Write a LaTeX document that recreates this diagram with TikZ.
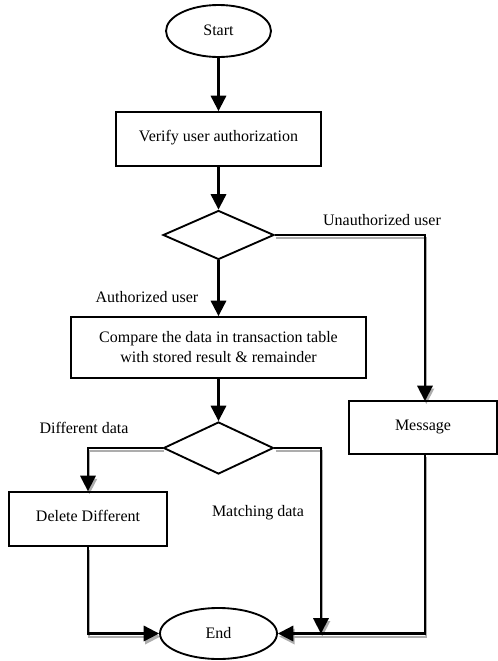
\documentclass[tikz,border=0pt]{standalone}
\usepackage{fontspec}
\setmainfont{Liberation Serif}
\usetikzlibrary{shapes.geometric,arrows.meta}
\pgfdeclarelayer{shade}
\pgfsetlayers{shade,main}
% connector drawn twice: a soft grey copy underneath, then the black line
\newcommand\shadedlink[1]{%
  \begin{pgfonlayer}{shade}\draw[shadowline] #1;\end{pgfonlayer}
  \draw[link] #1;}
\begin{document}
\begin{tikzpicture}[x=0.75pt,y=-0.75pt,
  font=\fontsize{12pt}{15pt}\selectfont,
  base/.style={draw=black,line width=1.4pt,inner sep=0pt},
  terminal/.style={base,ellipse},
  process/.style={base,rectangle,align=center},
  decision/.style={base,diamond},
  tip/.style={-{Triangle[length=11.5pt,width=11.5pt]}},
  link/.style={draw=black,line width=1.6pt,tip},
  shadowline/.style={draw=black!32,line width=1.5pt,tip,
    transform canvas={xshift=1pt,yshift=-2.3pt}},
  tag/.style={inner sep=0pt}]
\useasboundingbox (0,0) rectangle (498,661);

% shapes
\node[terminal,minimum width=78.75pt,minimum height=39pt] (start) at (218.5,31) {\raisebox{1.5pt}{Start}};
\node[process,minimum width=153.75pt,minimum height=40.5pt] (verify) at (218.5,139) {\raisebox{4.5pt}{Verify user authorization}};
\node[decision,minimum width=83.25pt,minimum height=36.75pt] (d1) at (218.5,235) {};
\node[process,minimum width=221.25pt,minimum height=45.75pt] (compare) at (218.5,347.5)
  {Compare the data in transaction table\\with stored result \& remainder};
\node[decision,minimum width=82.5pt,minimum height=39pt] (d2) at (218.5,448) {};
\node[process,minimum width=111pt,minimum height=39.75pt] (msg) at (423,427.5) {\raisebox{3.75pt}{Message}};
\node[process,minimum width=118.5pt,minimum height=40.5pt] (del) at (88,519) {\raisebox{4.5pt}{Delete Different}};
\node[terminal,minimum width=87.75pt,minimum height=38.25pt] (end) at (218.5,633.5) {End};

% branch labels
\node[tag] (lunauth) at (382,220) {Unauthorized user};
\node[tag] (lauth) at (147,297) {Authorized user};
\node[tag] (ldiff) at (84,428) {Different data};
\node[tag] (lmatch) at (258,513) {Matching data};

% free ends of connectors
\coordinate (msgin) at (425,401);
\coordinate (msgout) at (425,454);
\coordinate (meet) at (321,633.5);

% straight flow
\draw[link] (start) -- (verify);
\draw[link] (verify) -- (d1);
\draw[link] (d1) -- (compare);
\draw[link] (compare) -- (d2);

% elbow connectors with shadow
\shadedlink{(d1.east) -| (msgin)}
\shadedlink{(d2.west) -| (del.north)}
\shadedlink{(d2.east) -| (meet)}
\shadedlink{(del.south) |- (end.west)}
\shadedlink{(msgout) |- (end.east)}
\end{tikzpicture}
\end{document}
